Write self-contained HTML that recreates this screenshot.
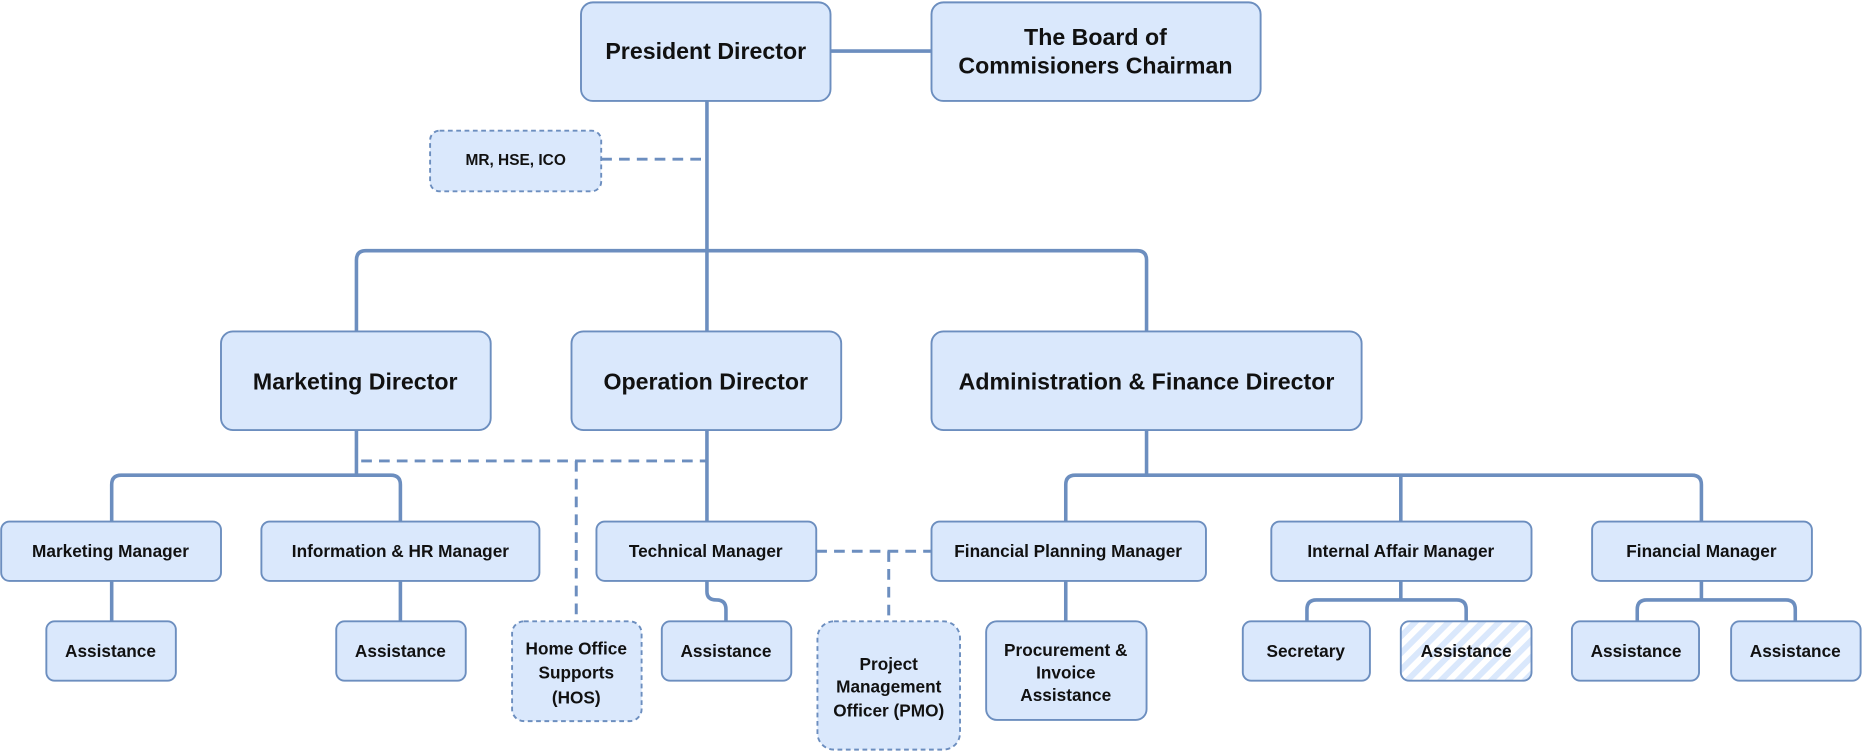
<!DOCTYPE html>
<html><head><meta charset="utf-8"><style>
html,body{margin:0;padding:0;background:#fff;}
svg{display:block;}
text{font-family:"Liberation Sans",sans-serif;fill:#111;text-anchor:middle;dominant-baseline:central;font-weight:bold;}
.s{font-size:14.5px;}
.l{font-size:19.5px;}
.b{fill:#dae8fc;stroke:#6c8ebf;stroke-width:1.6;}
.d{fill:#dae8fc;stroke:#6c8ebf;stroke-width:1.6;stroke-dasharray:4 3;}
.c{fill:none;stroke:#6c8ebf;stroke-width:3;}
.cd{fill:none;stroke:#6c8ebf;stroke-width:2.5;stroke-dasharray:9 6;}
</style></head><body>
<svg width="1863" height="752" viewBox="0 0 1568 633" preserveAspectRatio="none">
<defs><pattern id="h" width="10" height="10" patternUnits="userSpaceOnUse" patternTransform="rotate(45)"><rect width="10" height="10" fill="#fff"/><rect width="5" height="10" fill="#dae8fc"/></pattern></defs>
<!-- connectors -->
<path class="c" d="M699 43H784"/>
<path class="c" d="M595 85V279"/>
<path class="c" d="M300 279V219Q300 211 308 211H957Q965 211 965 219V279"/>
<path class="cd" d="M506 134H595"/>
<path class="c" d="M300 362V400M94 439V408Q94 400 102 400H329Q337 400 337 408V439"/>
<path class="cd" d="M300 362V388H595V362M485 388V523"/>
<path class="c" d="M595 362V439"/>
<path class="c" d="M595 489V498Q595 505 603 505Q611 505 611 513V523"/>
<path class="cd" d="M687 464H784M748 464V523"/>
<path class="c" d="M965 362V400M897 439V408Q897 400 905 400H1424Q1432 400 1432 408V439M1179 400V439"/>
<path class="c" d="M94 489V523M337 489V523M897 489V523"/>
<path class="c" d="M1179 489V505M1100 523V513Q1100 505 1108 505H1226Q1234 505 1234 513V523"/>
<path class="c" d="M1432 489V505M1378 523V513Q1378 505 1386 505H1503Q1511 505 1511 513V523"/>
<!-- boxes -->
<rect class="b" x="489" y="2" width="210" height="83" rx="10"/><text class="l" x="594" y="43">President Director</text>
<rect class="b" x="784" y="2" width="277" height="83" rx="10"/><text class="l" x="922" y="31">The Board of</text><text class="l" x="922" y="55">Commisioners Chairman</text>
<rect class="d" x="362" y="110" width="144" height="51" rx="8"/><text class="s" x="434" y="135" style="font-size:13px">MR, HSE, ICO</text>
<rect class="b" x="186" y="279" width="227" height="83" rx="10"/><text class="l" x="299" y="321">Marketing Director</text>
<rect class="b" x="481" y="279" width="227" height="83" rx="10"/><text class="l" x="594" y="321">Operation Director</text>
<rect class="b" x="784" y="279" width="362" height="83" rx="10"/><text class="l" x="965" y="321">Administration &amp; Finance Director</text>
<rect class="b" x="1" y="439" width="185" height="50" rx="7"/><text class="s" x="93" y="464">Marketing Manager</text>
<rect class="b" x="220" y="439" width="234" height="50" rx="7"/><text class="s" x="337" y="464">Information &amp; HR Manager</text>
<rect class="b" x="502" y="439" width="185" height="50" rx="7"/><text class="s" x="594" y="464">Technical Manager</text>
<rect class="b" x="784" y="439" width="231" height="50" rx="7"/><text class="s" x="899" y="464">Financial Planning Manager</text>
<rect class="b" x="1070" y="439" width="219" height="50" rx="7"/><text class="s" x="1179" y="464">Internal Affair Manager</text>
<rect class="b" x="1340" y="439" width="185" height="50" rx="7"/><text class="s" x="1432" y="464">Financial Manager</text>
<rect class="b" x="39" y="523" width="109" height="50" rx="7"/><text class="s" x="93" y="548">Assistance</text>
<rect class="b" x="283" y="523" width="109" height="50" rx="7"/><text class="s" x="337" y="548">Assistance</text>
<rect class="d" x="431" y="523" width="109" height="84" rx="10"/><text class="s" x="485" y="546">Home Office</text><text class="s" x="485" y="566">Supports</text><text class="s" x="485" y="587">(HOS)</text>
<rect class="b" x="557" y="523" width="109" height="50" rx="7"/><text class="s" x="611" y="548">Assistance</text>
<rect class="d" x="688" y="523" width="120" height="108" rx="14"/><text class="s" x="748" y="559">Project</text><text class="s" x="748" y="578">Management</text><text class="s" x="748" y="598">Officer (PMO)</text>
<rect class="b" x="830" y="523" width="135" height="83" rx="9"/><text class="s" x="897" y="547">Procurement &amp;</text><text class="s" x="897" y="566">Invoice</text><text class="s" x="897" y="585">Assistance</text>
<rect class="b" x="1046" y="523" width="107" height="50" rx="7"/><text class="s" x="1099" y="548">Secretary</text>
<rect x="1179" y="523" width="110" height="50" rx="7" fill="url(#h)" stroke="#6c8ebf" stroke-width="1.6"/><text class="s" x="1234" y="548">Assistance</text>
<rect class="b" x="1323" y="523" width="107" height="50" rx="7"/><text class="s" x="1377" y="548">Assistance</text>
<rect class="b" x="1457" y="523" width="109" height="50" rx="7"/><text class="s" x="1511" y="548">Assistance</text>
</svg>
</body></html>
